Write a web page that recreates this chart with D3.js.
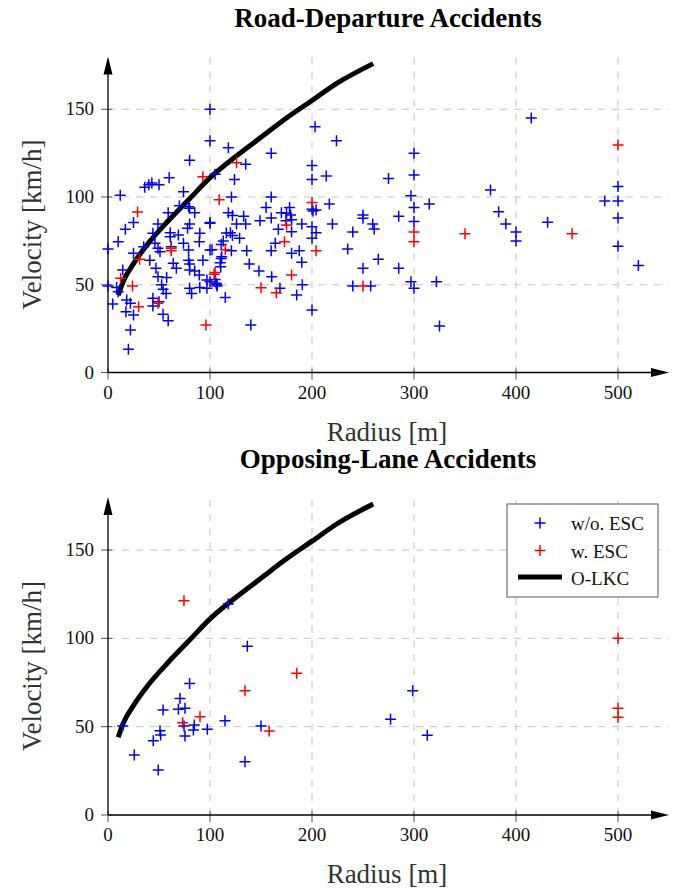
<!DOCTYPE html>
<html>
<head>
<meta charset="UTF-8">
<style>
  body { margin: 0; background: #fff; }
  svg text { font-family: "Liberation Serif", "DejaVu Serif", serif; }
  .grid line { stroke: #c4c4c4; stroke-dasharray: 7,7; stroke-width: 1; }
  .title { font-weight: bold; font-size: 27px; fill: #000; }
  .axisTitle { font-size: 27px; fill: #333; }
  .tickLabel { font-size: 19px; fill: #111; }
</style>
</head>
<body>
<script src="https://d3js.org/d3.v7.min.js"></script>
<script>
// radius [m], velocity [km/h]
var roadWithoutEsc = [
  [12,101],[36,105.5],[40,107],[43,108],[50,107],[60,111],[80,121],[100,150],[100,132],[105,113],
  [118,128],[74,103],[70,95],[79,94.5],[85,91],[59,91],[118,91],[160,125],[135,118.6],[124,110],
  [203,140],[224,132],[200,118],[200,110],[214,112],[121,100],[160,100],[200,93],[204,92.6],[217,96],
  [122,89.4],[133,89],[155,94],[170,91],[175,90.7],[178,94],[179,89.7],[149,86.5],[160,88],[174.5,86.5],
  [180,87],[201,92],[100,85],[126,84.6],[135,84.6],[190,84.6],[220,84.6],[167,81.6],[180,80.2],[200,83],
  [204,79.7],[200,76.5],[116,79.5],[120,79.7],[122,78],[129,76.5],[113,75],[111,73],[102,70],[121,69.4],
  [136,69.4],[160,69.4],[164,73.6],[180,68],[187.5,69.4],[190,62.8],[111,65],[110,62.6],[110.5,60.3],[138.5,61.8],
  [148,57.8],[160.5,54.6],[105,53],[106,50.8],[107,49.3],[168.6,48],[190.5,50],[185,44.2],[115,42.7],[200,35.6],
  [140,27],[25,85.4],[17,81.6],[10,74.5],[0,70.4],[49,84.6],[44,79.3],[61,79.7],[69,78.3],[80,93.6],
  [80,84.6],[78,82.2],[90,79.3],[100,85.4],[89.5,74.5],[74,73.6],[61,77.4],[46,73.6],[49,70.8],[51,68.8],
  [62,71.7],[35,71.7],[25,68],[41,64],[79,69.8],[79,64],[80,61.8],[93,64],[100,69.8],[111.5,66],
  [64,62.2],[67,59.4],[47,59.4],[80,58.4],[85,57.8],[89.5,55.6],[49,54.6],[57.5,54.2],[97,52.7],[100,51.7],
  [106.6,50],[14.4,58.4],[0,49.3],[8.5,48.5],[10,46],[52.6,50],[54,47.4],[57,45],[80,48],[82,45],
  [90,48.5],[97,48],[44,42.3],[50,40.3],[4.6,39],[18.3,41.3],[22,39.4],[17.6,34.6],[25,32.8],[44,37.9],
  [54,33.2],[59,29.5],[22,24.2],[20,13.2],[300,125],[300,112.5],[275,110.6],[297,100.7],[300,94],[315,96],
  [250,89.7],[285,89],[375,104],[383,91.6],[415,145],[500,106],[500,97.7],[487,97.7],[250,87.9],[259.5,84.6],
  [261,81.8],[240,80],[300,86],[390,84.6],[400,80],[400,75],[431,85.6],[500,88],[500,72],[520,61],
  [235,70.4],[265,64.5],[250,59.4],[285,59.4],[240,49.3],[257.5,49.3],[297,51.7],[300,48],[322,51.7],[325,26.5]
];
var roadWithEsc = [
  [29,91.5],[93,111.6],[109,98.5],[126,119.5],[200,96.8],[175,84],[173,74.5],[115,70],[204,69.4],[180,55.6],
  [104,56],[150,48.3],[165,45.5],[62,70.8],[62,69.4],[31,64.5],[12.4,53.7],[24,49.3],[49,39.4],[30,37.5],
  [96,27],[105,57],[300,80],[300,74.5],[350,79],[455,79],[500,129.6],[250,49.3]
];
var laneWithoutEsc = [
  [118,119.4],[136.6,95.5],[80,74.5],[70.6,66],[54,59.4],[69,59.8],[75.5,60.4],[114.7,53.4],[150,50.4],[14.4,50.4],
  [84.6,50.9],[83.7,48.1],[74.5,50.4],[75.5,44.7],[97.4,48.5],[51,47.7],[51.6,45.3],[44.4,42],[25.8,34],[49.3,25.5],
  [134.3,30.2],[298.7,70.3],[277,54.2],[313,45.1]
];
var laneWithEsc = [
  [74.5,121.3],[185,80.2],[134.3,70.3],[90.2,55.6],[73.2,52.2],[158,47.5],[500,100],[500,60.4],[500,55.3]
];
// O-LKC curve
var lkcRadius   = [10, 15, 25, 40, 60, 80, 100, 125, 150, 175, 200, 225, 260];
var lkcVelocity = [44, 52, 62, 74, 87, 99, 111, 123, 134, 145, 155, 165, 176];

var xTicks = [0, 100, 200, 300, 400, 500];
var yTicks = [0, 50, 100, 150];
var legendLabels = ['w/o. ESC', 'w. ESC', 'O-LKC'];

var svg = d3.select('body').append('svg').attr('width', 693).attr('height', 888);

var x = d3.scaleLinear().domain([0, 550]).range([108, 669]);

function drawPanel(title, titleY, y, without, withEsc, legend) {
    var g = svg.append('g');
    var y0 = y(0), yTop = y(180);

    // grid
    var grid = g.append('g').attr('class', 'grid');
    grid.selectAll('.gx').data(xTicks.filter(function(d){ return d > 0; })).enter()
        .append('line')
        .attr('x1', function(d){ return x(d); }).attr('x2', function(d){ return x(d); })
        .attr('y1', y0).attr('y2', yTop);
    grid.selectAll('.gy').data(yTicks.filter(function(d){ return d > 0; })).enter()
        .append('line')
        .attr('x1', x(0)).attr('x2', x(550))
        .attr('y1', function(d){ return y(d); }).attr('y2', function(d){ return y(d); });

    // ticks
    g.selectAll('.tx').data(xTicks).enter().append('line')
        .attr('x1', function(d){ return x(d); }).attr('x2', function(d){ return x(d); })
        .attr('y1', y0 - 4).attr('y2', y0 + 7)
        .attr('stroke', '#555').attr('stroke-width', 1);
    g.selectAll('.ty').data(yTicks).enter().append('line')
        .attr('x1', x(0) - 7).attr('x2', x(0) + 4)
        .attr('y1', function(d){ return y(d); }).attr('y2', function(d){ return y(d); })
        .attr('stroke', '#555').attr('stroke-width', 1);

    g.selectAll('.lx').data(xTicks).enter().append('text')
        .attr('class', 'tickLabel')
        .attr('x', function(d){ return x(d); }).attr('y', y0 + 26)
        .attr('text-anchor', 'middle').text(function(d){ return d; });
    g.selectAll('.ly').data(yTicks).enter().append('text')
        .attr('class', 'tickLabel')
        .attr('x', x(0) - 14).attr('y', function(d){ return y(d) + 6; })
        .attr('text-anchor', 'end').text(function(d){ return d; });

    // axis lines with arrows
    g.append('line').attr('x1', x(0)).attr('x2', x(550) - 14)
        .attr('y1', y0).attr('y2', y0).attr('stroke', '#000').attr('stroke-width', 1.3);
    g.append('path')
        .attr('d', 'M' + x(550) + ',' + y0 + 'L' + (x(550) - 18) + ',' + (y0 - 4.5) + 'L' + (x(550) - 18) + ',' + (y0 + 4.5) + 'Z')
        .attr('fill', '#000');
    g.append('line').attr('x1', x(0)).attr('x2', x(0))
        .attr('y1', y0).attr('y2', yTop + 14).attr('stroke', '#000').attr('stroke-width', 1.3);
    g.append('path')
        .attr('d', 'M' + x(0) + ',' + yTop + 'L' + (x(0) - 4.5) + ',' + (yTop + 18) + 'L' + (x(0) + 4.5) + ',' + (yTop + 18) + 'Z')
        .attr('fill', '#000');

    // O-LKC curve
    var line = d3.line()
        .x(function(d){ return x(d[0]); })
        .y(function(d){ return y(d[1]); })
        .curve(d3.curveMonotoneX);
    g.append('path')
        .datum(d3.zip(lkcRadius, lkcVelocity))
        .attr('d', line)
        .attr('fill', 'none').attr('stroke', '#000').attr('stroke-width', 5);

    // markers
    function plus(sel, data, color) {
        sel.selectAll(null).data(data).enter().append('path')
            .attr('d', function(d){
                var px = x(d[0]), py = y(d[1]);
                return 'M' + (px - 5.5) + ',' + py + 'H' + (px + 5.5) + 'M' + px + ',' + (py - 5.5) + 'V' + (py + 5.5);
            })
            .attr('stroke', color).attr('stroke-width', 1.5).attr('fill', 'none');
    }
    plus(g.append('g'), without, '#0000ff');
    plus(g.append('g'), withEsc, '#ff0000');

    // labels
    g.append('text').attr('class', 'title')
        .attr('x', 388).attr('y', titleY).attr('text-anchor', 'middle').text(title);
    g.append('text').attr('class', 'axisTitle')
        .attr('x', 387).attr('y', y0 + 68).attr('text-anchor', 'middle').text('Radius [m]');
    g.append('text').attr('class', 'axisTitle')
        .attr('transform', 'translate(41,' + ((y0 + yTop) / 2 + 10) + ') rotate(-90)')
        .attr('text-anchor', 'middle').text('Velocity [km/h]');

    if (legend) {
        var lg = g.append('g').attr('transform', 'translate(507,504)');
        lg.append('rect').attr('width', 151).attr('height', 93)
            .attr('fill', '#fff').attr('stroke', '#555').attr('stroke-width', 1);
        var colors = ['#0000ff', '#ff0000'];
        [0, 1].forEach(function(i){
            var cy = 19 + i * 27.5;
            lg.append('path')
                .attr('d', 'M' + 27.5 + ',' + cy + 'H' + 38.5 + 'M' + 33 + ',' + (cy - 5.5) + 'V' + (cy + 5.5))
                .attr('stroke', colors[i]).attr('stroke-width', 1.5);
        });
        lg.append('line').attr('x1', 11).attr('x2', 55).attr('y1', 73).attr('y2', 73)
            .attr('stroke', '#000').attr('stroke-width', 5);
        lg.selectAll('.lt').data(legendLabels).enter().append('text')
            .attr('x', 64).attr('y', function(d, i){ return 26 + i * 27.5; })
            .attr('font-size', '19px').attr('fill', '#111').text(function(d){ return d; });
    }
}

drawPanel('Road-Departure Accidents', 27,
    d3.scaleLinear().domain([0, 180]).range([372.5, 56.6]),
    roadWithoutEsc, roadWithEsc, false);
drawPanel('Opposing-Lane Accidents', 468,
    d3.scaleLinear().domain([0, 180]).range([815, 497]),
    laneWithoutEsc, laneWithEsc, true);
</script>
</body>
</html>
